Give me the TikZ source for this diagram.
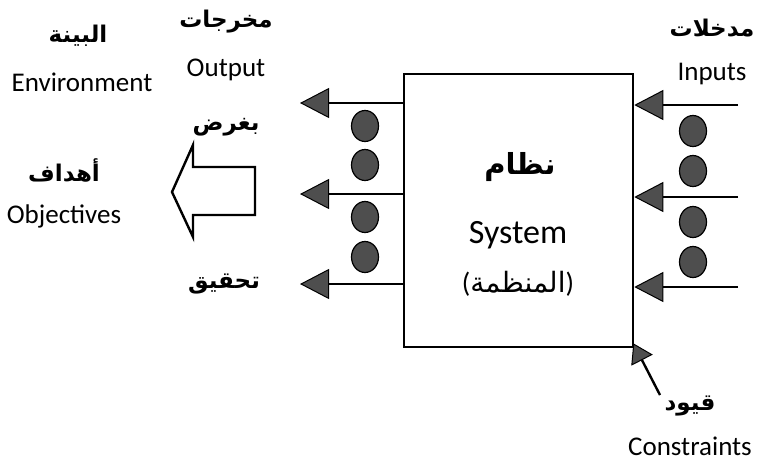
\documentclass[tikz,border=0pt]{standalone}
\usepackage{fontspec}
\setmainfont{Carlito}
\newfontfamily\arabicfont[Script=Arabic]{DejaVu Sans}
\TeXXeTstate=1
\usetikzlibrary{arrows.meta,shapes.geometric}
\definecolor{headgray}{HTML}{4E4E4E}
\tikzset{
  arr/.style={line width=2.6pt, -{Triangle[length=29pt,width=30pt,fill=headgray,line width=1pt]}},
  carr/.style={line width=2.4pt, -{Triangle[length=19pt,width=24pt,fill=headgray,line width=1pt]}},
  dot/.style={draw=black, line width=1.2pt, fill=headgray, ellipse, minimum width=27pt, minimum height=31pt, inner sep=0pt},
  en/.style={font=\fontsize{27}{30}\selectfont, inner sep=0pt},
  ar/.style={font=\arabicfont\bfseries\fontsize{23}{26}\selectfont, inner sep=0pt},
}
\begin{document}
\begin{tikzpicture}[x=1pt,y=-1pt]
\useasboundingbox (0,0) rectangle (765,469);
% system box
\node[draw=black, line width=2.6pt, minimum width=229pt, minimum height=273pt, inner sep=0pt] (sys) at (518.5,210.5) {};
\node[ar, font=\arabicfont\bfseries\fontsize{29}{32}\selectfont] (nizam) at (520,167) {\beginR نظام\endR};
\node[en, font=\fontsize{34}{38}\selectfont] (system) at (518,235) {System};
\node[inner sep=0pt, font=\fontsize{28}{31}\selectfont] (munazzama) at (518,284) {({\arabicfont\beginR المنظمة\endR})};
% outputs
\coordinate (o1) at (300,103);
\coordinate (o2) at (300,194);
\coordinate (o3) at (300,284);
\draw[arr] (sys.west |- o1) -- (o1);
\draw[arr] (sys.west |- o2) -- (o2);
\draw[arr] (sys.west |- o3) -- (o3);
\node[dot] (od1) at (365,126) {};
\node[dot] (od2) at (365,165) {};
\node[dot] (od3) at (365,217) {};
\node[dot] (od4) at (365,257) {};
% inputs
\coordinate (i1) at (738,105);
\coordinate (i2) at (738,197);
\coordinate (i3) at (738,287);
\draw[arr] (i1) -- (sys.east |- i1);
\draw[arr] (i2) -- (sys.east |- i2);
\draw[arr] (i3) -- (sys.east |- i3);
\node[dot] (id1) at (693,131) {};
\node[dot] (id2) at (693,171) {};
\node[dot] (id3) at (693,222) {};
\node[dot] (id4) at (693,262) {};
% constraints
\coordinate (c0) at (660,395);
\coordinate (c1) at ([shift={(-1pt,5pt)}]sys.south east);
\draw[carr] (c0) -- (c1);
\node[ar] (quyud) at (690,406) {\beginR قيود\endR};
\node[en] (constraints) at (690,446) {Constraints};
% big hollow arrow
\draw[line width=2.4pt, line join=miter] (172,192) -- (193,145) -- (193,167) -- (255,167) -- (255,215) -- (193,215) -- (193,237) -- cycle;
% labels
\node[ar] (bia) at (78,36) {\beginR البينة\endR};
\node[en] (env) at (82,82) {Environment};
\node[ar] (mukh) at (226,22) {\beginR مخرجات\endR};
\node[en] (out) at (226,70) {Output};
\node[ar] (bighard) at (226,127) {\beginR بغرض\endR};
\node[ar] (ahdaf) at (64,170) {\beginR أهداف\endR};
\node[en] (obj) at (64,216) {Objectives};
\node[ar] (tahqiq) at (224,284) {\beginR تحقيق\endR};
\node[ar] (mudkh) at (712,28) {\beginR مدخلات\endR};
\node[en] (inp) at (712,74) {Inputs};
\end{tikzpicture}
\end{document}
